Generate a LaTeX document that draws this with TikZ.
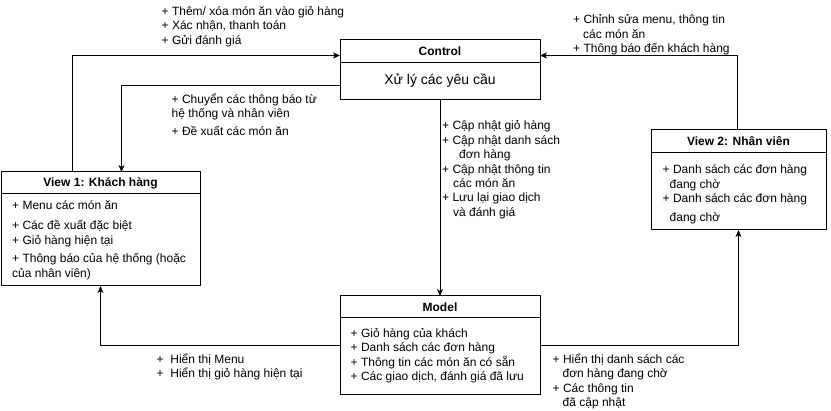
\documentclass[tikz,border=0pt]{standalone}
\usepackage{fontspec}
\setmainfont{Liberation Sans}
\usetikzlibrary{arrows.meta}
\newcommand\mlines[1]{\vtop{\baselineskip=14.4pt\lineskiplimit=-30pt\lineskip=0pt\halign{##\hfil\cr#1\crcr}}}
\newcommand\pgap[1]{\noalign{\vskip #1}}
\definecolor{hl}{HTML}{F8F9FA}
\begin{document}
\begin{tikzpicture}[x=1pt,y=-1pt,
  box/.style={draw,line width=1pt,inner sep=0pt,outer sep=0pt,anchor=north west},
  ttl/.style={font=\bfseries\fontsize{12}{14.4}\selectfont,inner sep=0pt,anchor=base},
  lbl/.style={font=\fontsize{12}{14.4}\selectfont,inner sep=0pt,anchor=base west},
  arr/.style={line width=1pt,-{Stealth[length=7pt,width=6pt,inset=2pt]}},
  sep/.style={line width=1pt}]
\useasboundingbox[fill=white] (0,0) rectangle (831,411);

% boxes
\node[box,minimum width=200pt,minimum height=60pt] (ctrl) at (340,40) {};
\node[box,minimum width=199pt,minimum height=114pt] (v1) at (1,172) {};
\node[box,minimum width=175pt,minimum height=100pt] (v2) at (651,130) {};
\node[box,minimum width=200pt,minimum height=99pt] (model) at (340,296) {};

% header separators
\draw[sep] (ctrl.north west) ++(0,23) -- ++(200,0);
\draw[sep] (v1.north west) ++(0,21.5) -- ++(199,0);
\draw[sep] (v2.north west) ++(0,23) -- ++(175,0);
\draw[sep] (model.north west) ++(0,22) -- ++(200,0);

% titles
\node[ttl] (ctrlT) at (440,56) {Control};
\node[font=\fontsize{14}{16.8}\selectfont,inner sep=0pt,anchor=base] (ctrlB) at (440,85) {Xử lý các yêu cầu};
\node[ttl] (v1T) at (100.5,187) {View 1: Khách hàng};
\node[ttl] (v2T) at (738.5,146) {View 2: Nhân viên};
\node[ttl] (modelT) at (440,312) {Model};

% box contents
\node[lbl] (v1B) at (12,210) {\mlines{+ Menu các món ăn\cr\pgap{5.5pt}
+ Các đề xuất đặc biệt\cr
+ Giỏ hàng hiện tại\cr\pgap{4pt}
+ Thông báo của hệ thống (hoặc\cr
của nhân viên)}};
\fill[hl] (661.7,191.7) rectangle (806,204);
\fill[hl] (665.7,209) rectangle (719,222.3);
\node[lbl] (v2B) at (662.5,174) {\mlines{+ Danh sách các đơn hàng\cr
\hskip7pt đang chờ\cr
+ Danh sách các đơn hàng\cr\pgap{4pt}
\hskip7pt đang chờ}};
\node[lbl] (modelB) at (350.5,337.5) {\mlines{+ Giỏ hàng của khách\cr
+ Danh sách các đơn hàng\cr
+ Thông tin các món ăn có sẵn\cr
+ Các giao dịch, đánh giá đã lưu}};

% connectors
\coordinate (p1) at (72.5,55.5);
\coordinate (p2) at (121.5,85.5);
\coordinate (p3) at (737.5,55.5);
\coordinate (p5) at (100.5,345.5);
\coordinate (p6) at (738.5,345.5);
\draw[arr] (v1.north -| p1) |- (ctrl.west |- p1);
\draw[arr] (ctrl.west |- p2) -| (v1.north -| p2);
\draw[arr] (v2.north -| p3) |- (ctrl.east |- p3);
\draw[arr] (ctrl.south) -- (model.north);
\draw[arr] (model.west |- p5) -| (v1.south -| p5);
\draw[arr] (model.east |- p6) -| (v2.south -| p6);

% connector labels
\node[lbl] (l1) at (161.5,15.5) {\mlines{+ Thêm/ xóa món ăn vào giỏ hàng\cr
+ Xác nhận, thanh toán\cr
+ Gửi đánh giá}};
\node[lbl] (l2) at (171.5,103.5) {\mlines{+ Chuyển các thông báo từ\cr
hệ thống và nhân viên\cr\pgap{3pt}
+ Đề xuất các món ăn}};
\node[lbl] (l3) at (573,24) {\mlines{+ Chỉnh sửa menu, thông tin\cr
\hskip10pt các món ăn\cr
+ Thông báo đến khách hàng}};
\node[lbl] (l4) at (442,130) {\mlines{+ Cập nhật giỏ hàng\cr
+ Cập nhật danh sách\cr
\hskip17pt đơn hàng\cr
+ Cập nhật thông tin\cr
\hskip11pt các món ăn\cr
+ Lưu lại giao dịch\cr
\hskip11pt và đánh giá}};
\node[lbl] (l5) at (156.5,363.5) {\mlines{+\ \ Hiển thị Menu\cr
+\ \ Hiển thị giỏ hàng hiện tại}};
\node[lbl] (l6) at (552.5,363.3) {\mlines{+ Hiển thị danh sách các\cr
\hskip10pt đơn hàng đang chờ\cr
+ Các thông tin\cr
\hskip10pt đã cập nhật}};
\end{tikzpicture}
\end{document}
